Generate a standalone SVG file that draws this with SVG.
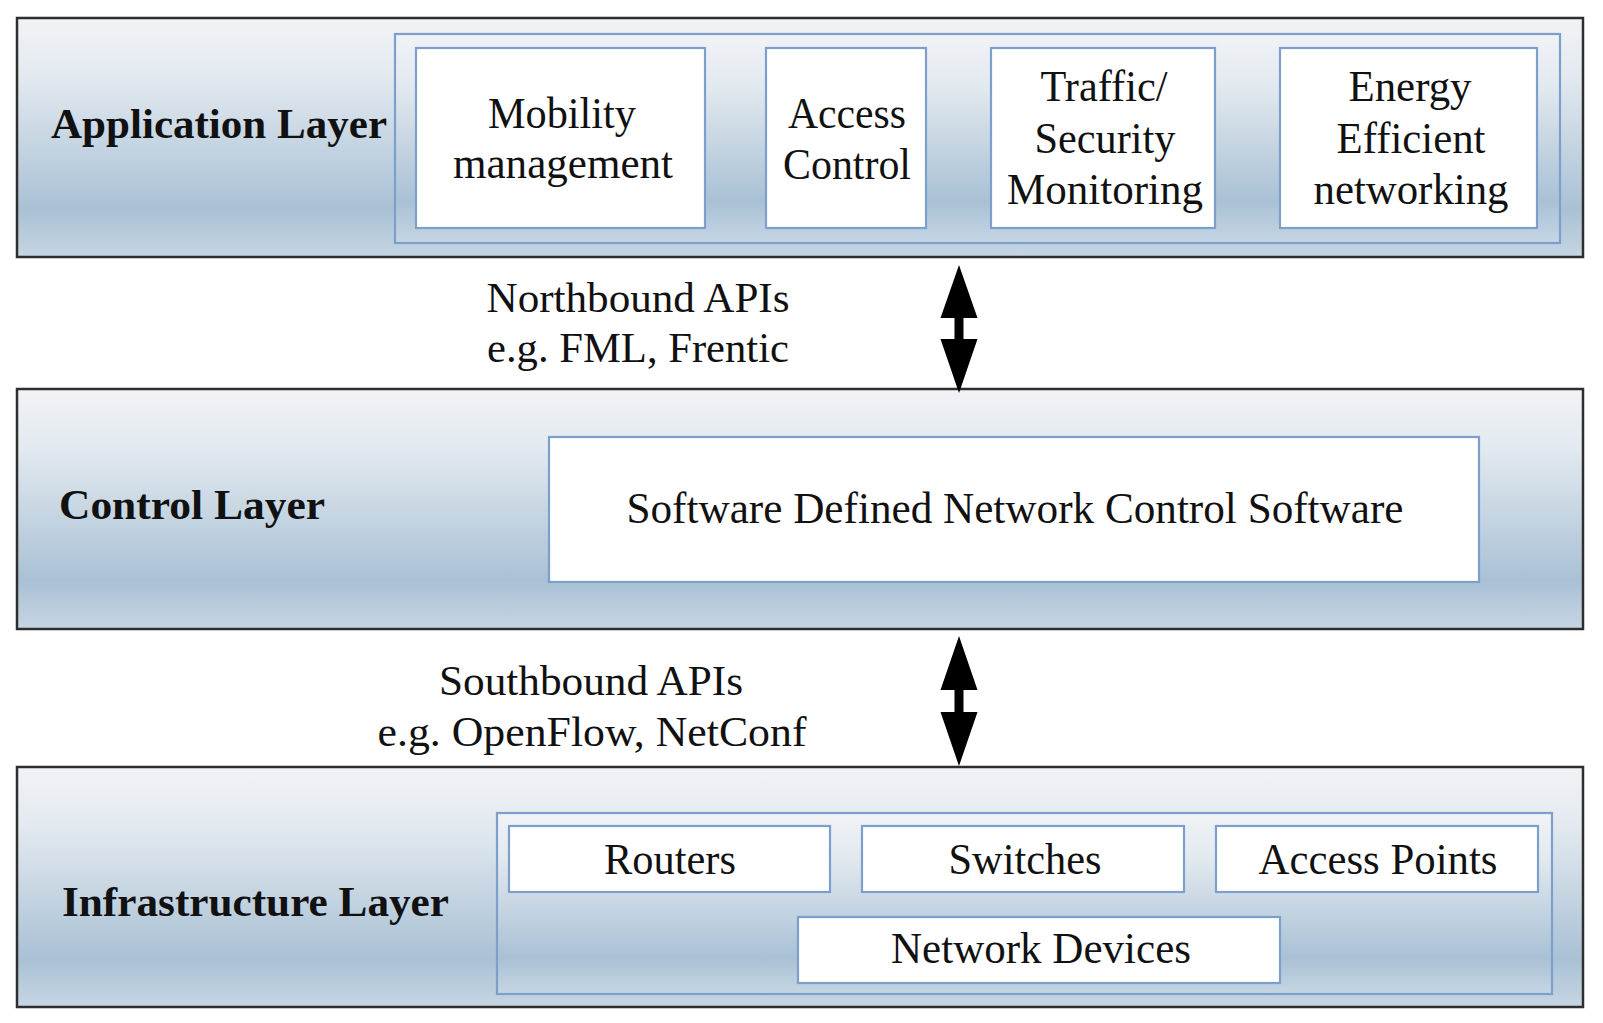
<svg xmlns="http://www.w3.org/2000/svg" width="1603" height="1023" viewBox="0 0 1603 1023">
<defs>
<linearGradient id="layerGrad" x1="0" y1="0" x2="0" y2="1">
<stop offset="0" stop-color="#f1f3f6"/>
<stop offset="0.25" stop-color="#e2e9ef"/>
<stop offset="0.55" stop-color="#c3d3e1"/>
<stop offset="0.8" stop-color="#a9c1d5"/>
<stop offset="1" stop-color="#c6d6e3"/>
</linearGradient>
<style>
.layer{fill:url(#layerGrad);stroke:#2e2e2e;stroke-width:2.5}
.inner{fill:url(#layerGrad);stroke:#7c9fcb;stroke-width:2.2}
.box{fill:#ffffff;stroke:#7c9fcb;stroke-width:2.2}
.lbl{font-family:"Liberation Serif","Times New Roman",serif;font-weight:bold;font-size:42px;fill:#111}
.t{font-family:"Liberation Serif","Times New Roman",serif;font-size:45px;fill:#111;text-anchor:middle}
.api{font-family:"Liberation Serif","Times New Roman",serif;font-size:43px;fill:#111;text-anchor:middle}
.arrow{fill:#000}
</style>
</defs>
<rect width="1603" height="1023" fill="#ffffff"/>

<g id="application-layer">
<rect class="layer" x="17" y="18" width="1566" height="239"/>
<text class="lbl" x="51" y="138" textLength="336" lengthAdjust="spacingAndGlyphs">Application Layer</text>
<rect class="inner" x="395" y="34" width="1165" height="209"/>
</g>
<g id="mobility-management">
<rect class="box" x="416" y="48" width="289" height="180"/>
<text class="t" x="562" y="128" textLength="148" lengthAdjust="spacingAndGlyphs">Mobility</text>
<text class="t" x="563" y="178" textLength="220" lengthAdjust="spacingAndGlyphs">management</text>
</g>
<g id="access-control">
<rect class="box" x="766" y="48" width="160" height="180"/>
<text class="t" x="847" y="128" textLength="118" lengthAdjust="spacingAndGlyphs">Access</text>
<text class="t" x="847" y="179" textLength="128" lengthAdjust="spacingAndGlyphs">Control</text>
</g>
<g id="traffic-security-monitoring">
<rect class="box" x="991" y="48" width="224" height="180"/>
<text class="t" x="1104" y="101" textLength="127" lengthAdjust="spacingAndGlyphs">Traffic/</text>
<text class="t" x="1105" y="153" textLength="141" lengthAdjust="spacingAndGlyphs">Security</text>
<text class="t" x="1105" y="204" textLength="196" lengthAdjust="spacingAndGlyphs">Monitoring</text>
</g>
<g id="energy-efficient-networking">
<rect class="box" x="1280" y="48" width="257" height="180"/>
<text class="t" x="1410" y="101" textLength="123" lengthAdjust="spacingAndGlyphs">Energy</text>
<text class="t" x="1411" y="153" textLength="149" lengthAdjust="spacingAndGlyphs">Efficient</text>
<text class="t" x="1411" y="204" textLength="195" lengthAdjust="spacingAndGlyphs">networking</text>
</g>

<g id="control-layer">
<rect class="layer" x="17" y="389" width="1566" height="240"/>
<text class="lbl" x="59" y="519" textLength="266" lengthAdjust="spacingAndGlyphs">Control Layer</text>
</g>
<g id="sdn-control-software">
<rect class="box" x="549" y="437" width="930" height="145"/>
<text class="t" x="1015" y="523" textLength="777" lengthAdjust="spacingAndGlyphs">Software Defined Network Control Software</text>
</g>

<g id="infrastructure-layer">
<rect class="layer" x="17" y="767" width="1566" height="240"/>
<text class="lbl" x="62" y="916" textLength="387" lengthAdjust="spacingAndGlyphs">Infrastructure Layer</text>
<rect class="inner" x="497" y="813" width="1055" height="181"/>
</g>
<g id="routers">
<rect class="box" x="509" y="826" width="321" height="66"/>
<text class="t" x="670" y="874" textLength="132" lengthAdjust="spacingAndGlyphs">Routers</text>
</g>
<g id="switches">
<rect class="box" x="862" y="826" width="322" height="66"/>
<text class="t" x="1025" y="874" textLength="153" lengthAdjust="spacingAndGlyphs">Switches</text>
</g>
<g id="access-points">
<rect class="box" x="1216" y="826" width="322" height="66"/>
<text class="t" x="1378" y="874" textLength="239" lengthAdjust="spacingAndGlyphs">Access Points</text>
</g>
<g id="network-devices">
<rect class="box" x="798" y="917" width="482" height="66"/>
<text class="t" x="1041" y="963" textLength="300" lengthAdjust="spacingAndGlyphs">Network Devices</text>
</g>

<g id="connectors">
<polygon class="arrow" points="959,265 977.5,318 963.5,318 963.5,339 977.5,339 959,393 940.5,339 954.5,339 954.5,318 940.5,318"/>
<text class="api" x="638" y="312" textLength="303" lengthAdjust="spacingAndGlyphs">Northbound APIs</text>
<text class="api" x="638" y="362" textLength="302" lengthAdjust="spacingAndGlyphs">e.g. FML, Frentic</text>
<polygon class="arrow" points="959,636 977.5,690 963.5,690 963.5,712 977.5,712 959,766 940.5,712 954.5,712 954.5,690 940.5,690"/>
<text class="api" x="591" y="695" textLength="304" lengthAdjust="spacingAndGlyphs">Southbound APIs</text>
<text class="api" x="592" y="746" textLength="429" lengthAdjust="spacingAndGlyphs">e.g. OpenFlow, NetConf</text>
</g>
</svg>
